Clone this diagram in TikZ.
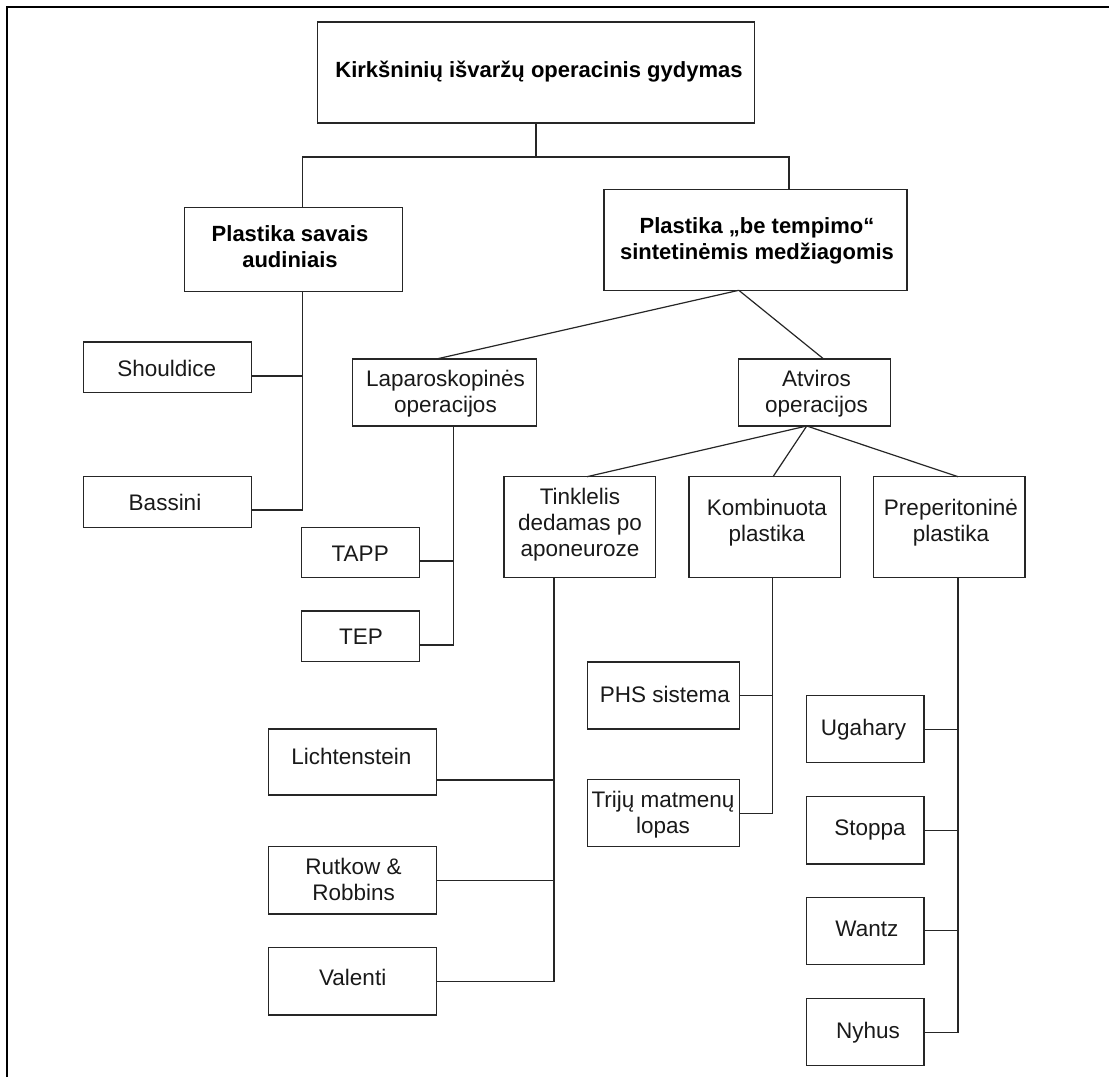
\documentclass[tikz,border=0pt]{standalone}
\usepackage{fontspec}
\setmainfont{Liberation Sans}
\begin{document}
\begin{tikzpicture}[x=1pt,y=-1pt,
  box/.style={draw=black!85, line width=1.2pt, rectangle, inner sep=0pt, outer sep=0pt},
  conn/.style={draw=black!85, line width=1.2pt},
  txt/.style={font=\fontsize{22.5}{26}\selectfont, align=center, anchor=base, inner sep=0pt, text=black!90},
  txtb/.style={font=\fontsize{22}{26}\selectfont\bfseries, align=center, anchor=base, inner sep=0pt, text=black}]
\useasboundingbox (0,0) rectangle (1109,1077);
\draw[line width=2pt] (7,1077) -- (7,7) -- (1109,7);

% boxes
\node[box, minimum width=437pt, minimum height=101pt] (top) at (536,72.5) {};
\node[box, minimum width=218pt, minimum height=84pt] (L1) at (293.5,249.7) {};
\node[box, minimum width=303pt, minimum height=101pt] (R1) at (755.5,239.7) {};
\node[box, minimum width=168pt, minimum height=50.7pt] (shou) at (167.3,367.3) {};
\node[box, minimum width=168pt, minimum height=50.6pt] (bass) at (167.3,502) {};
\node[box, minimum width=184.3pt, minimum height=67pt] (lap) at (444.6,392.5) {};
\node[box, minimum width=152pt, minimum height=67pt] (atv) at (814.8,392.5) {};
\node[box, minimum width=117.8pt, minimum height=50.4pt] (tapp) at (360.7,552.5) {};
\node[box, minimum width=117.8pt, minimum height=50.7pt] (tep) at (360.7,636.3) {};
\node[box, minimum width=151.4pt, minimum height=101pt] (tink) at (579.7,527.2) {};
\node[box, minimum width=151.2pt, minimum height=101pt] (komb) at (764.5,527.2) {};
\node[box, minimum width=151.2pt, minimum height=101pt] (prep) at (949.4,527.2) {};
\node[box, minimum width=168.2pt, minimum height=66pt] (licht) at (352.3,762) {};
\node[box, minimum width=168.2pt, minimum height=67.3pt] (rutk) at (352.3,880.3) {};
\node[box, minimum width=168.2pt, minimum height=67.3pt] (vale) at (352.3,981.3) {};
\node[box, minimum width=152pt, minimum height=67pt] (phs) at (663.5,695.5) {};
\node[box, minimum width=152pt, minimum height=67pt] (trij) at (663.5,813.2) {};
\node[box, minimum width=117.6pt, minimum height=67pt] (ugah) at (865.1,729.2) {};
\node[box, minimum width=117.6pt, minimum height=67.7pt] (stop) at (865.1,830.2) {};
\node[box, minimum width=117.6pt, minimum height=67pt] (want) at (865.1,930.8) {};
\node[box, minimum width=117.6pt, minimum height=67pt] (nyhu) at (865.1,1032.2) {};

% texts (anchor base = baseline of last line)
\node[txtb] (top-t) at (539,77.3) {Kirkšninių išvaržų operacinis gydymas};
\node[txtb] (L1-t) at (290,267.7) {Plastika savais\\audiniais};
\node[txtb] (R1-t) at (757,259.3) {Plastika „be tempimo“\\sintetinėmis medžiagomis};
\node[txt] (shou-t) at (166.8,376) {Shouldice};
\node[txt] (bass-t) at (165,510.7) {Bassini};
\node[txt] (lap-t) at (445.5,412.7) {Laparoskopinės\\operacijos};
\node[txt] (atv-t) at (816.5,412.7) {Atviros\\operacijos};
\node[txt] (tapp-t) at (360.2,561) {TAPP};
\node[txt] (tep-t) at (361,644.3) {TEP};
\node[txt] (tink-t) at (580,556.7) {Tinklelis\\dedamas po\\aponeuroze};
\node[txt] (komb-t) at (766.8,541) {Kombinuota\\plastika};
\node[txt] (prep-t) at (950.9,541) {Preperitoninė\\plastika};
\node[txt] (licht-t) at (351.3,764) {Lichtenstein};
\node[txt] (rutk-t) at (353.6,900.7) {Rutkow \&\\Robbins};
\node[txt] (vale-t) at (352.7,985.7) {Valenti};
\node[txt] (phs-t) at (665,702) {PHS sistema};
\node[txt] (trij-t) at (663,833.3) {Trijų matmenų\\lopas};
\node[txt] (ugah-t) at (863.5,735.7) {Ugahary};
\node[txt] (stop-t) at (870,835) {Stoppa};
\node[txt] (want-t) at (866.8,936) {Wantz};
\node[txt] (nyhu-t) at (868,1038.3) {Nyhus};

% attachment coordinates
\coordinate (L1in) at (302.7,207.7);
\coordinate (R1in) at (789,189);
\coordinate (topj) at (537.5,157);
\coordinate (L1b) at (302.5,291.7);
\coordinate (R1b) at (738.8,290.3);
\coordinate (lapin) at (436.4,359);
\coordinate (atvin) at (823.7,359);
\coordinate (lapb) at (453.6,426);
\coordinate (atvb) at (806.7,426);
\coordinate (tinkin) at (587,476.7);
\coordinate (kombin) at (773,476.7);
\coordinate (prepin) at (958,476.7);
\coordinate (tinkb) at (554,577.7);
\coordinate (kombb) at (772.6,577.7);
\coordinate (prepb) at (958,577.7);

% connectors
\draw[conn] (top.south) -- (top.south |- topj) coordinate (tj);
\draw[conn] (L1in) |- (tj) -| (R1in);
\draw[conn] ([yshift=-8.7pt]shou.east) -| (L1b);
\draw[conn] ([yshift=-8pt]bass.east) -| (L1b);
\draw[conn] (R1b) -- (lapin);
\draw[conn] (R1b) -- (atvin);
\draw[conn] ([yshift=-8.5pt]tapp.east) -| (lapb);
\draw[conn] ([yshift=-8.7pt]tep.east) -| (lapb);
\draw[conn] (atvb) -- (tinkin);
\draw[conn] (atvb) -- (kombin);
\draw[conn] (atvb) -- (prepin);
\draw[conn] ([yshift=-18pt]licht.east) -| (tinkb);
\draw[conn] (rutk.east) -| (tinkb);
\draw[conn] (vale.east) -| (tinkb);
\draw[conn] (phs.east) -| (kombb);
\draw[conn] (trij.east) -| (kombb);
\draw[conn] (ugah.east) -| (prepb);
\draw[conn] (stop.east) -| (prepb);
\draw[conn] (want.east) -| (prepb);
\draw[conn] (nyhu.east) -| (prepb);
\end{tikzpicture}
\end{document}
